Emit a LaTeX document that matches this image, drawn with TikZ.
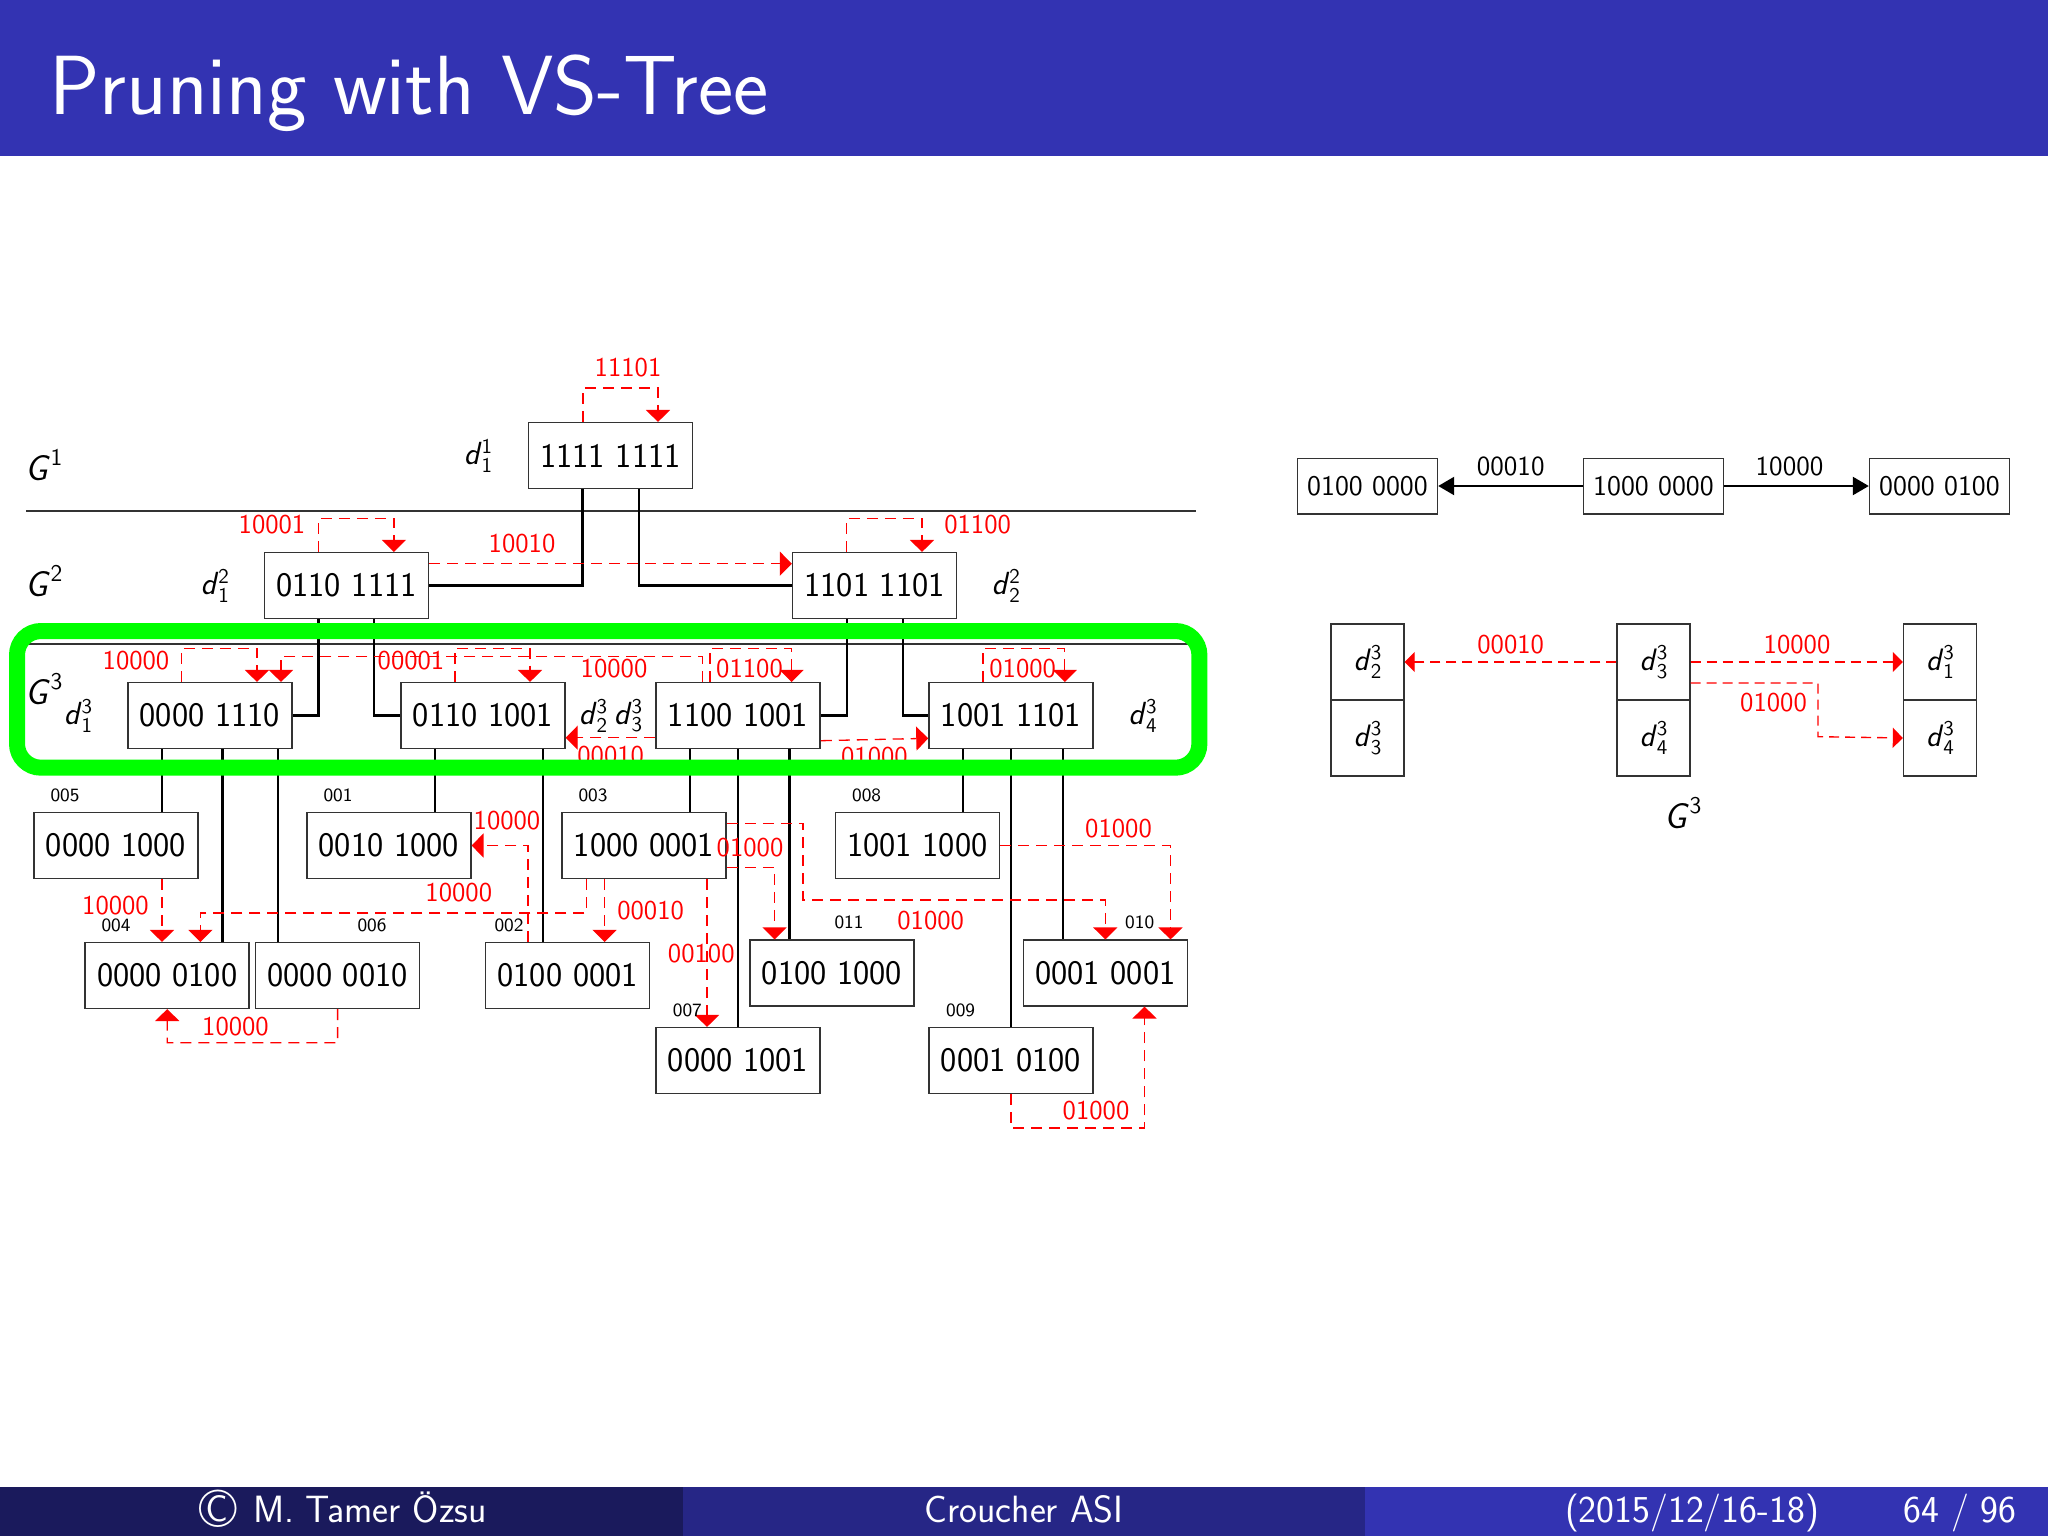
\documentclass[tikz,border=0pt]{standalone}
\usetikzlibrary{arrows.meta}
\definecolor{bhead}{HTML}{3333B2}
\definecolor{bmid}{HTML}{262686}
\definecolor{bdark}{HTML}{1A1A5C}
\definecolor{edgegray}{HTML}{333333}
\newcommand{\fsz}[1]{\fontsize{#1}{#1}\selectfont}
\newcommand{\ddv}[2]{\textsl{d}{\fsz{10.5}\rlap{\raisebox{-3.8pt}{#1}}\raisebox{5.6pt}{#2}}}
\newcommand{\ggv}[1]{{\fsz{18}\textsl{G}}{\fsz{12}\raisebox{7.2pt}{#1}}}
\tikzset{
  x=0.5pt,y=-0.5pt,
  bitbox/.style={draw=edgegray,line width=0.75pt,minimum width=82pt,minimum height=32.8pt,inner sep=0pt,font=\sffamily\fsz{17.2}},
  smallbox/.style={draw=edgegray,line width=0.7pt,minimum width=70pt,minimum height=27.8pt,inner sep=0pt,font=\sffamily\fsz{14.2}},
  cellbox/.style={draw=edgegray,line width=0.7pt,minimum width=36.5pt,minimum height=38pt,inner sep=0pt,font=\sffamily\fsz{15.5}},
  redlab/.style={inner sep=0pt,text=red,font=\sffamily\fsz{13.6}},
  blacklab/.style={inner sep=0pt,text=black,font=\sffamily\fsz{13.8}},
  idlab/.style={inner sep=0pt,text=black,font=\sffamily\fsz{9.4}},
  mathlab/.style={inner sep=0pt,text=black,font=\sffamily\fsz{16}},
  treeline/.style={draw=black,line width=1.1pt},
  levelline/.style={draw=edgegray,line width=0.7pt},
  redflow/.style={draw=red,line width=0.65pt,dash pattern=on 5.5pt off 3.5pt,-{Triangle[length=6pt,width=12pt]}},
  redflowsm/.style={draw=red,line width=0.7pt,dash pattern=on 5pt off 3pt,-{Triangle[length=5pt,width=10pt]}},
  blackflow/.style={draw=black,line width=1.2pt,-{Triangle[length=8pt,width=9pt]}},
}
\begin{document}
\begin{tikzpicture}
\useasboundingbox (0,0) rectangle (2048,1536);
\fill[white] (0,0) rectangle (2048,1536);
% header and footer bands
\fill[bhead] (0,0) rectangle (2048,156);
\fill[bdark] (0,1487) rectangle (682.7,1536);
\fill[bmid] (682.7,1487) rectangle (1365.3,1536);
\fill[bhead] (1365.3,1487) rectangle (2048,1536);
\node[anchor=base west,inner sep=0pt,text=white,font=\sffamily\fsz{42}] (title) at (49,114.5) {Pruning with VS-Tree};
\node[anchor=base,inner sep=0pt,text=white,font=\sffamily\fsz{19}] (foot1) at (343,1522.7) {{\fsz{27}\raisebox{-2.4pt}{\textcopyright}}\hspace{2.2pt}\ M. Tamer Özsu};
\node[anchor=base,inner sep=0pt,text=white,font=\sffamily\fsz{19}] (foot2) at (1024,1522.7) {Croucher ASI};
\node[anchor=base,inner sep=0pt,text=white,font=\sffamily\fsz{19}] (foot3) at (1692,1522.7) {(2015/12/16-18)};
\node[anchor=base,inner sep=0pt,text=white,font=\sffamily\fsz{19}] (foot4) at (1960,1522.7) {64 / 96};
% level lines
\coordinate (lvlAw) at (26,511); \coordinate (lvlAe) at (1196,511);
\coordinate (lvlBw) at (26,644); \coordinate (lvlBe) at (1196,644);
\draw[levelline] (lvlAw) -- (lvlAe);
\draw[levelline] (lvlBw) -- (lvlBe);
% tree boxes
\node[bitbox] (root) at (610.5,455.5) {1111 1111};
\node[bitbox] (a1) at (346.5,585.5) {0110 1111};
\node[bitbox] (a2) at (874.6,585.5) {1101 1101};
\node[bitbox] (b1) at (209.8,715.5) {0000 1110};
\node[bitbox] (b2) at (482.9,715.5) {0110 1001};
\node[bitbox] (b3) at (738,715.5) {1100 1001};
\node[bitbox] (b4) at (1011,715.5) {1001 1101};
\node[bitbox] (c1) at (116,845.5) {0000 1000};
\node[bitbox] (c2) at (388.8,845.5) {0010 1000};
\node[bitbox] (c3) at (644,845.5) {1000 0001};
\node[bitbox] (c4) at (917.3,845.5) {1001 1000};
\node[bitbox] (e1) at (167.2,975.5) {0000 0100};
\node[bitbox] (e2) at (337.6,975.5) {0000 0010};
\node[bitbox] (e3) at (567.7,975.5) {0100 0001};
\node[bitbox] (f1) at (832,973) {0100 1000};
\node[bitbox] (f2) at (1105.3,973) {0001 0001};
\node[bitbox] (g1) at (738,1060.5) {0000 1001};
\node[bitbox] (g2) at (1011,1060.5) {0001 0100};
% tree connectors
\draw[treeline] (root.south -| 582.4,0) |- (a1.east);
\draw[treeline] (root.south -| 638.8,0) |- (a2.west);
\draw[treeline] (a1.south -| 318.4,0) |- (b1.east);
\draw[treeline] (a1.south -| 374.3,0) |- (b2.west);
\draw[treeline] (a2.south -| 846.6,0) |- (b3.east);
\draw[treeline] (a2.south -| 902.6,0) |- (b4.west);
\draw[treeline] (b1.south -| 162,0) -- (c1.north -| 162,0);
\draw[treeline] (b1.south -| 222.4,0) -- (e1.north -| 222.4,0);
\draw[treeline] (b1.south -| 278,0) -- (e2.north -| 278,0);
\draw[treeline] (b2.south -| 435,0) -- (c2.north -| 435,0);
\draw[treeline] (b2.south -| 543,0) -- (e3.north -| 543,0);
\draw[treeline] (b3.south -| 690,0) -- (c3.north -| 690,0);
\draw[treeline] (b3.south) -- (g1.north);
\draw[treeline] (b3.south -| 789.4,0) -- (f1.north -| 789.4,0);
\draw[treeline] (b4.south -| 963.3,0) -- (c4.north -| 963.3,0);
\draw[treeline] (b4.south) -- (g2.north);
\draw[treeline] (b4.south -| 1062.6,0) -- (f2.north -| 1062.6,0);
% red edges
\draw[redflow] (root.north -| 582.9,0) |- (658,388) -- (root.north -| 658,0);
\draw[redflow] (a1.north -| 318.4,0) |- (393.9,518.3) -- (a1.north -| 393.9,0);
\draw[redflow] (a1.east |- 0,563.7) -- (a2.west |- 0,563.7);
\draw[redflow] (a2.north -| 846.6,0) |- (922,518.3) -- (a2.north -| 922,0);
\draw[redflow] (b1.north -| 181.6,0) |- (257,648.3) -- (b1.north -| 257,0);
\draw[redflow] (b2.north -| 455,0) |- (530,648.3) -- (b2.north -| 530,0);
\draw[redflow] (b3.north -| 702.2,0) |- (281,656.7) -- (b1.north -| 281,0);
\draw[redflow] (b3.north -| 710,0) |- (791.6,648.3) -- (b3.north -| 791.6,0);
\draw[redflow] (b4.north -| 983,0) |- (1064.8,648.3) -- (b4.north -| 1064.8,0);
\draw[redflow] (b3.west |- 0,737.7) -- (b2.east |- 0,737.7);
\draw[redflow] (b3.east |- 0,740.7) -- (b4.west |- 0,738.3);
\draw[redflow] (c1.south -| 162,0) -- (e1.north -| 162,0);
\draw[redflow] (c3.south -| 586.4,0) |- (200.4,913) -- (e1.north -| 200.4,0);
\draw[redflow] (e3.north -| 528,0) |- (c2.east);
\draw[redflow] (c3.south -| 604.6,0) -- (e3.north -| 604.6,0);
\draw[redflow] (c3.south -| 707,0) -- (g1.north -| 707,0);
\draw[redflow] (c3.east |- 0,867.7) -| (f1.north -| 774.6,0);
\draw[redflow] (c3.east |- 0,823.3) -| (803,900) -| (f2.north);
\draw[redflow] (c4.east) -| (f2.north -| 1170.5,0);
\draw[redflow] (e2.south) |- (167.3,1042.7) -- (e1.south);
\draw[redflow] (g2.south) |- (1144.5,1128) -- (f2.south -| 1144.5,0);
% red labels
\node[redlab] (t01) at (628,368) {11101};
\node[redlab] (t02) at (272,524.7) {10001};
\node[redlab] (t03) at (522,543.5) {10010};
\node[redlab] (t04) at (977.6,524.3) {01100};
\node[redlab] (t05) at (136,660.5) {10000};
\node[redlab] (t06) at (411,660.5) {00001};
\node[redlab] (t07) at (614,668.5) {10000};
\node[redlab] (t08) at (749.5,668.5) {01100};
\node[redlab] (t09) at (1022.7,668.5) {01000};
\node[redlab] (t10) at (610.7,756) {00010};
\node[redlab] (t11) at (874.4,757) {01000};
\node[redlab] (t12) at (115.5,905.5) {10000};
\node[redlab] (t13) at (458.8,893) {10000};
\node[redlab] (t14) at (507,820.5) {10000};
\node[redlab] (t15) at (650.6,911) {00010};
\node[redlab] (t16) at (701.3,953.5) {00100};
\node[redlab] (t17) at (750,847.5) {01000};
\node[redlab] (t18) at (930.7,920.8) {01000};
\node[redlab] (t19) at (1118.5,828.8) {01000};
\node[redlab] (t20) at (235.5,1026.5) {10000};
\node[redlab] (t21) at (1096,1111) {01000};
% ids
\node[idlab] (i05) at (65,795) {005};
\node[idlab] (i01) at (338,795) {001};
\node[idlab] (i03) at (593,795) {003};
\node[idlab] (i08) at (866.6,795) {008};
\node[idlab] (i04) at (116,925) {004};
\node[idlab] (i06) at (372,925) {006};
\node[idlab] (i02) at (509,925) {002};
\node[idlab] (i11) at (849,922.7) {011};
\node[idlab] (i10) at (1139.7,922.7) {010};
\node[idlab] (i07) at (687.4,1010) {007};
\node[idlab] (i09) at (960.6,1010) {009};
% math labels
\node[mathlab] (g1lab) at (44,465) {\ggv{1}};
\node[mathlab] (g2lab) at (44,581) {\ggv{2}};
\node[mathlab] (g3lab) at (44,689) {\ggv{3}};
\node[mathlab] (d11) at (478,456) {\ddv{1}{1}};
\node[mathlab] (d12) at (214.7,585.7) {\ddv{1}{2}};
\node[mathlab] (d22) at (1005.8,585.7) {\ddv{2}{2}};
\node[mathlab] (d13) at (78,715.7) {\ddv{1}{3}};
\node[mathlab] (d23) at (592.9,715.7) {\ddv{2}{3}};
\node[mathlab] (d33) at (628,715.7) {\ddv{3}{3}};
\node[mathlab] (d43) at (1142.4,715.7) {\ddv{4}{3}};
% green highlight
\draw[draw={rgb,255:red,0;green,255;blue,0},line width=8pt,rounded corners=12pt] (17,631) rectangle (1199.4,767.7);
% right: upper chain
\node[smallbox] (r1) at (1367.5,486) {0100 0000};
\node[smallbox] (r2) at (1653.5,486) {1000 0000};
\node[smallbox] (r3) at (1939.5,486) {0000 0100};
\draw[blackflow] (r2) -- (r1);
\draw[blackflow] (r2) -- (r3);
\node[blacklab] (rl1) at (1510.7,466.7) {00010};
\node[blacklab] (rl2) at (1789.5,466.7) {10000};
% right: lower cells
\node[cellbox] (l1) at (1367.5,662) {\ddv{2}{3}};
\node[cellbox] (l2) at (1367.5,738) {\ddv{3}{3}};
\node[cellbox] (m1) at (1653.5,662) {\ddv{3}{3}};
\node[cellbox] (m2) at (1653.5,738) {\ddv{4}{3}};
\node[cellbox] (s1) at (1940,662) {\ddv{1}{3}};
\node[cellbox] (s2) at (1940,738) {\ddv{4}{3}};
\draw[redflowsm] (m1.west) -- (l1.east);
\draw[redflowsm] (m1.east) -- (s1.west);
\draw[redflowsm] (m1.east |- 0,683) -| (1818,736.7) -- (s2.west);
\node[redlab] (rl3) at (1510.7,644.5) {00010};
\node[redlab] (rl4) at (1797,644.5) {10000};
\node[redlab] (rl5) at (1773.5,702.5) {01000};
\node[mathlab] (g3r) at (1683,813) {\ggv{3}};
\end{tikzpicture}
\end{document}
